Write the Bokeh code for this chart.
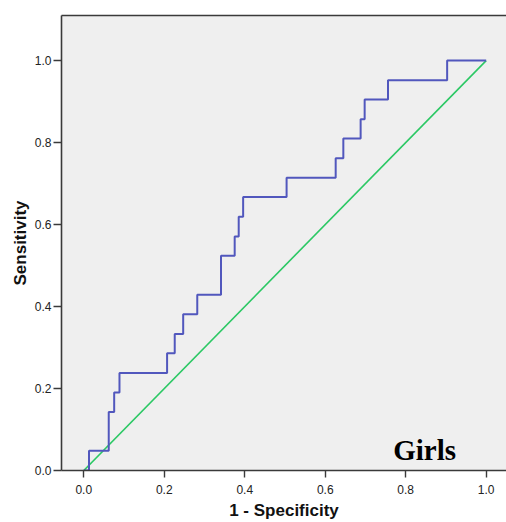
from bokeh.plotting import figure
from bokeh.models import LinearAxis, Range1d, Label, FixedTicker, PrintfTickFormatter
from bokeh.embed import file_html
from bokeh.resources import INLINE

# ROC curve corner points (1 - specificity, sensitivity)
fpr = [0.0, 0.013, 0.062, 0.0755, 0.0887, 0.207, 0.226, 0.247, 0.282, 0.341,
       0.375, 0.385, 0.396, 0.504, 0.626, 0.645, 0.688, 0.698, 0.756, 0.903, 1.0]
tpr = [0.0, 0.048, 0.143, 0.190, 0.238, 0.286, 0.333, 0.381, 0.429, 0.524,
       0.571, 0.619, 0.667, 0.714, 0.762, 0.810, 0.857, 0.905, 0.952, 1.0, 1.0]
ref_x = [0.0, 1.0]
ref_y = [0.0, 1.0]
ticks = [0.0, 0.2, 0.4, 0.6, 0.8, 1.0]
panel_label = "Girls"
x_title = "1 - Specificity"
y_title = "Sensitivity"

FONT = "Liberation Sans"
AXIS_COLOR = "#3a3a3a"

p = figure(width=506, height=522, output_backend="svg", toolbar_location=None,
           x_range=Range1d(-0.0554, 1.0505), y_range=Range1d(0.0, 1.11),
           x_axis_location=None, y_axis_location=None,
           min_border_left=61, min_border_right=0, min_border_top=15, min_border_bottom=52,
           background_fill_color="#efefef", border_fill_color="white",
           outline_line_color=None)
p.grid.visible = False

p.line(ref_x, ref_y, line_color="#2bc864", line_width=1.6)
p.step(fpr, tpr, mode="after", line_color="#5157bd", line_width=2)


def style_axis(ax):
    ax.ticker = FixedTicker(ticks=ticks)
    ax.formatter = PrintfTickFormatter(format="%.1f")
    ax.axis_line_color = AXIS_COLOR
    ax.axis_line_width = 1.6
    ax.major_tick_line_color = AXIS_COLOR
    ax.major_tick_line_width = 1.4
    ax.major_tick_in = 0
    ax.minor_tick_line_color = None
    ax.major_label_text_font = FONT
    ax.major_label_text_font_size = "12px"
    ax.major_label_text_color = "#222222"
    ax.axis_label_text_font = FONT
    ax.axis_label_text_font_style = "bold"
    ax.axis_label_text_color = "#111111"
    ax.axis_label_text_font_size = "17px"


xa = LinearAxis(axis_label=x_title)
style_axis(xa)
xa.major_tick_out = 7
xa.major_label_standoff = 7
xa.axis_label_standoff = 4
p.add_layout(xa, "below")

ya = LinearAxis(axis_label=y_title)
style_axis(ya)
ya.major_tick_out = 8
ya.major_label_standoff = 2
ya.axis_label_standoff = 2
p.add_layout(ya, "left")

top = LinearAxis(ticker=FixedTicker(ticks=[]))
top.axis_line_color = AXIS_COLOR
top.axis_line_width = 1.6
top.major_tick_line_color = None
top.minor_tick_line_color = None
top.major_label_text_font_size = "0px"
p.add_layout(top, "above")

p.add_layout(Label(x=0.847, y=0.05, text=panel_label, text_align="center",
                   text_baseline="alphabetic", text_font="Liberation Serif",
                   text_font_style="bold", text_font_size="29px", text_color="black"))

open("out.html", "w").write(file_html(p, INLINE))
